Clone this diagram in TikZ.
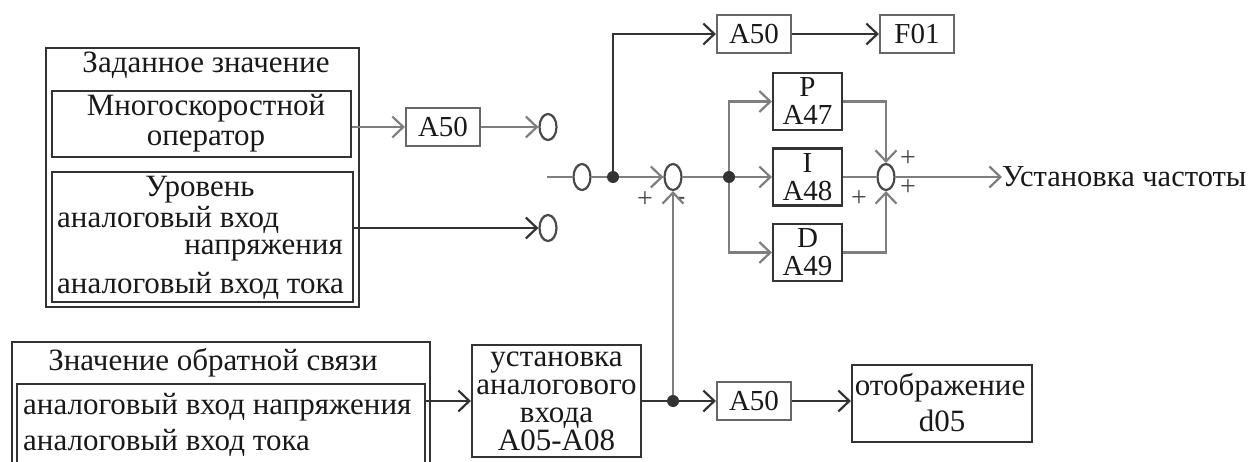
\documentclass[tikz,border=0pt]{standalone}
\usepackage{fontspec}
\setmainfont{Liberation Serif}
\usetikzlibrary{positioning, arrows.meta, shapes.geometric}
\definecolor{darkline}{HTML}{333333}
\definecolor{greyline}{HTML}{7E7E7E}
\tikzset{
  > = {Straight Barb[length = 11pt, width = 21pt]},
  x = 1pt, y = -1pt,
  every node/.style = {inner sep = 0pt, text = black!90, font = \fontsize{31}{28}\selectfont},
  frame/.style = {draw = darkline, line width = 2.2pt, minimum width = #1},
  block/.style = {frame = 74pt, minimum height = 38pt, draw = greyline!70!darkline, font = \fontsize{29}{30}\selectfont},
  term/.style = {frame = 69pt, minimum height = 57pt, align = center,
    font = \fontsize{29}{28}\selectfont},
  summer/.style = {draw = darkline!70!greyline, line width = 2.2pt, ellipse, minimum width = 17pt, minimum height = 26pt},
  junction/.style = {circle, fill = darkline, minimum size = 12pt},
  plus/.style = {text = darkline!70!greyline, font = \fontsize{28}{28}\selectfont},
  wire/.style = {line width = 2.2pt, draw = darkline},
  greywire/.style = {line width = 2.2pt, draw = greyline}
}
\begin{document}
\begin{tikzpicture}

\useasboundingbox (0,0) rectangle (1250,462);
\clip (0,0) rectangle (1250,462);

% setpoint group
\node [frame = 313pt, minimum height = 259pt] (setgroup) at (202.5,177.5) {};
\node [frame = 299pt, minimum height = 66pt] (opbox) at (201.5,124) {};
\node [frame = 301pt, minimum height = 130pt] (levelbox) at (202.5,237) {};
\node (settitle) at (206,65) {Заданное значение};
\node (optext) at (206,123) [align = center] {Многоскоростной\\[2pt]оператор};
\node (leveltitle) at (200,190) {Уровень};
\node (levelu) at (57,220) [anchor = west] {аналоговый вход};
\node (levelu2) at (343,250) [anchor = east] {напряжения};
\node (leveli) at (57,286) [anchor = west] {аналоговый вход тока};

% feedback group
\node [frame = 418pt, minimum height = 138pt] (fbgroup) at (221,411) {};
\node [frame = 408pt, minimum height = 96pt] (fbbox) at (221,432) {};
\node (fbtitle) at (213,363) {Значение обратной связи};
\node (fbu) at (23,407) [anchor = west] {аналоговый вход напряжения};
\node (fbi) at (23,443) [anchor = west] {аналоговый вход тока};

% blocks
\node [block] (a50op) at (443,127) {A50};
\node [block] (a50top) at (754,34) {A50};
\node [block] (f01) at (917,34) {F01};
\node [term] (pterm) at (807.5,101.5) {P\\A47};
\node [term] (iterm) at (807.5,177) {I\\A48};
\node [term] (dterm) at (807.5,252.5) {D\\A49};
\node [frame = 169pt, minimum height = 112pt, align = center] (inbox) at (556.5,401) {установка\\аналогового\\входа\\A05-A08};
\node [block] (a50fb) at (754,401) {A50};
\node [frame = 180pt, minimum height = 77pt] (showbox) at (942,403.5) {};
\node (showtext) at (940,388) {отображение};
\node (showcode) at (942,421) {d05};

% summing points
\node [summer] (opsum) at (548,127) {};
\node [summer] (levelsum) at (548,228) {};
\node [summer] (startsum) at (582,177) {};
\node [summer] (diffsum) at (673,177) {};
\node [summer] (outsum) at (886,177) {};
\node [junction] (jtop) at (613,177) {};
\node [junction] (jterm) at (729,177) {};
\node [junction] (jfb) at (673,401) {};
\coordinate (start) at (547,177);
\node [font = \fontsize{30.5}{28}\selectfont] (outtext) at (1002,177) [anchor = west] {Установка частоты};

\node [plus] (p1) at (645,200) {+};
\node [plus] (p2) at (908,159) {+};
\node [plus] (p3) at (908,188) {+};
\node [plus] (p4) at (859,199) {+};
\node [plus, font = \fontsize{26}{26}\selectfont] (m1) at (681,201) {-};

% connections
\draw [greywire, ->] (opbox.east |- a50op) -- (a50op);
\draw [greywire, ->] (a50op) -- (opsum);
\draw [wire, ->] (levelbox.east |- levelsum) -- (levelsum);
\draw [greywire] (start) -- (startsum);
\draw [greywire] (startsum) -- (jtop);
\draw [wire, ->] (jtop) |- (a50top);
\draw [wire, ->] (a50top) -- (f01);
\draw [greywire, ->] (jtop) -- (diffsum);
\draw [greywire] (diffsum) -- (jterm);
\draw [greywire, ->] (jterm) |- (pterm);
\draw [greywire, ->] (jterm) -- (iterm);
\draw [greywire, ->] (jterm) |- (dterm);
\draw [greywire, ->] (pterm) -| (outsum);
\draw [greywire] (iterm) -- (outsum);
\draw [greywire, ->] (dterm) -| (outsum);
\draw [greywire, ->] (outsum) -- (outtext);
\draw [greywire, ->] (jfb) -- (diffsum);
\draw [wire, ->] (fbbox.east |- inbox) -- (inbox);
\draw [wire] (inbox) -- (jfb);
\draw [wire, ->] (jfb) -- (a50fb);
\draw [wire, ->] (a50fb) -- (showbox.west |- a50fb);

\end{tikzpicture}
\end{document}
